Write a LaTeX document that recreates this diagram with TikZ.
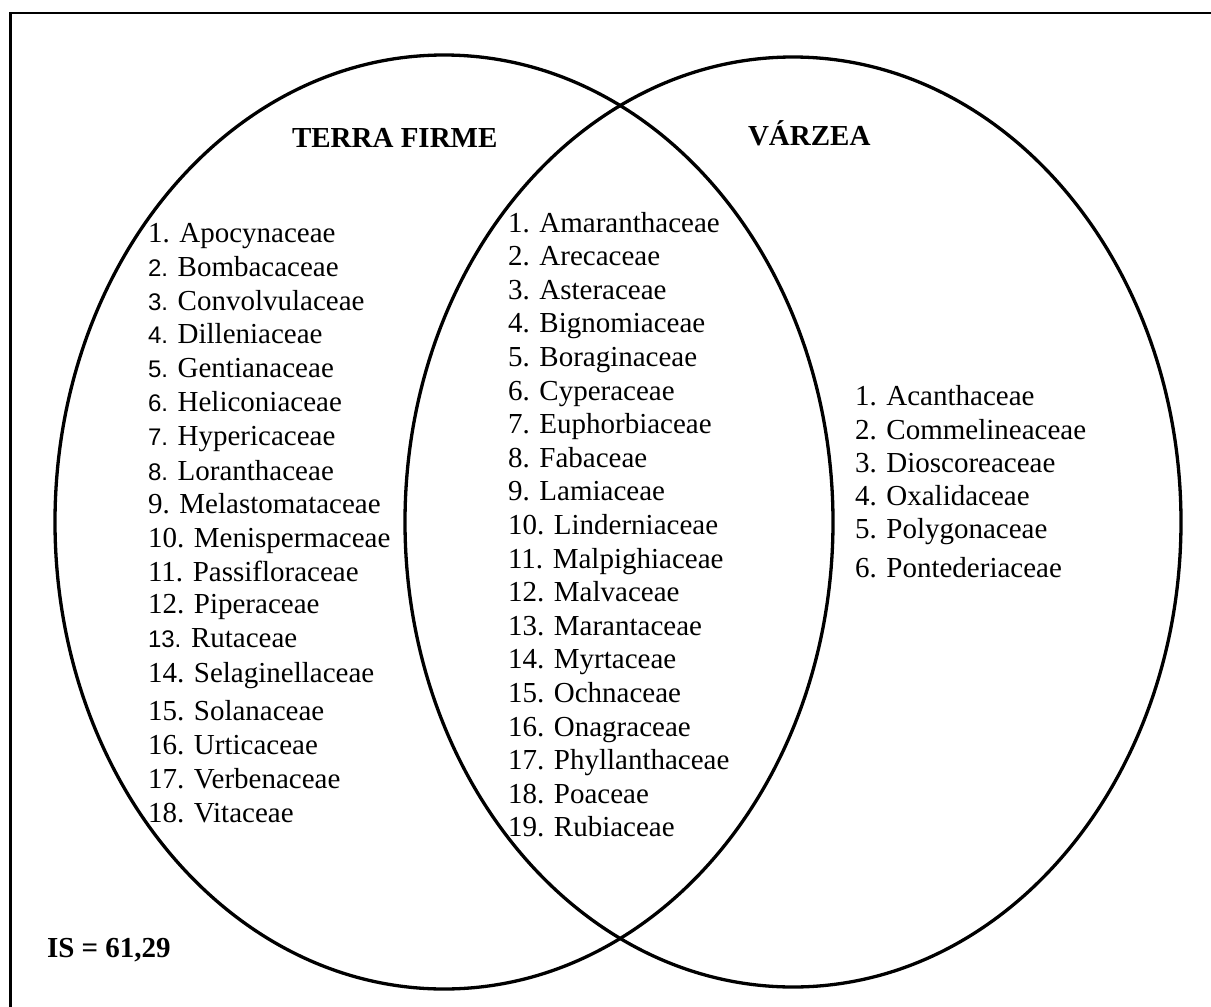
\documentclass[tikz,border=0pt]{standalone}
\usepackage{fontspec}
\setmainfont{Liberation Serif}
\newfontfamily\arialnum{Liberation Sans}
\newcommand{\snum}[1]{{\arialnum\fontsize{24}{28}\selectfont #1}}
\tikzset{
  item/.style={anchor=base west, inner sep=0pt, outer sep=0pt, font=\fontsize{29}{34}\selectfont},
  ttl/.style={anchor=base west, inner sep=0pt, outer sep=0pt, font=\fontsize{29}{34}\selectfont\bfseries},
  setline/.style={line width=3.3pt, black},
  framel/.style={line width=2.4pt, black}
}
\begin{document}
\begin{tikzpicture}[x=1pt, y=-1pt]
\useasboundingbox (0,0) rectangle (1211,1007);
\clip (0,0) rectangle (1211,1007);
\fill[white] (0,0) rectangle (1211,1007);
\draw[framel] (10.5,13) rectangle (1240,1040);
\draw[setline] (444,522) ellipse [x radius=389pt, y radius=467pt];
\draw[setline] (793,522) ellipse [x radius=388pt, y radius=465pt];
% titles
\node[ttl] (tf) at (292,147) {TERRA FIRME};
\node[ttl] (vz) at (748,145) {VÁRZEA};
\node[ttl] (is) at (47,957) {IS = 61,29};
% left list
\foreach \i/\yy/\t in {
 1/242/{1. Apocynaceae},
 2/276/{\snum{2.} Bombacaceae},
 3/310/{\snum{3.} Convolvulaceae},
 4/343/{\snum{4.} Dilleniaceae},
 5/377/{\snum{5.} Gentianaceae},
 6/411/{\snum{6.} Heliconiaceae},
 7/445/{\snum{7.} Hypericaceae},
 8/480/{\snum{8.} Loranthaceae},
 9/513/{9. Melastomataceae},
 10/547/{10. Menispermaceae},
 11/581/{11. Passifloraceae},
 12/613/{12. Piperaceae},
 13/647/{\snum{13.} Rutaceae},
 14/682/{14. Selaginellaceae},
 15/720/{15. Solanaceae},
 16/754/{16. Urticaceae},
 17/788/{17. Verbenaceae},
 18/822/{18. Vitaceae}}
 \node[item] (L\i) at (148,\yy) {\t};
% middle list
\foreach \i/\t in {
 1/{1. Amaranthaceae},
 2/{2. Arecaceae},
 3/{3. Asteraceae},
 4/{4. Bignomiaceae},
 5/{5. Boraginaceae},
 6/{6. Cyperaceae},
 7/{7. Euphorbiaceae},
 8/{8. Fabaceae},
 9/{9. Lamiaceae},
 10/{10. Linderniaceae},
 11/{11. Malpighiaceae},
 12/{12. Malvaceae},
 13/{13. Marantaceae},
 14/{14. Myrtaceae},
 15/{15. Ochnaceae},
 16/{16. Onagraceae},
 17/{17. Phyllanthaceae},
 18/{18. Poaceae},
 19/{19. Rubiaceae}}
 \node[item] (M\i) at (508,{232+33.6*(\i-1)}) {\t};
% right list
\foreach \i/\yy/\t in {
 1/405/{1. Acanthaceae},
 2/439/{2. Commelineaceae},
 3/472/{3. Dioscoreaceae},
 4/505/{4. Oxalidaceae},
 5/538/{5. Polygonaceae},
 6/577/{6. Pontederiaceae}}
 \node[item] (R\i) at (855,\yy) {\t};
\end{tikzpicture}
\end{document}
